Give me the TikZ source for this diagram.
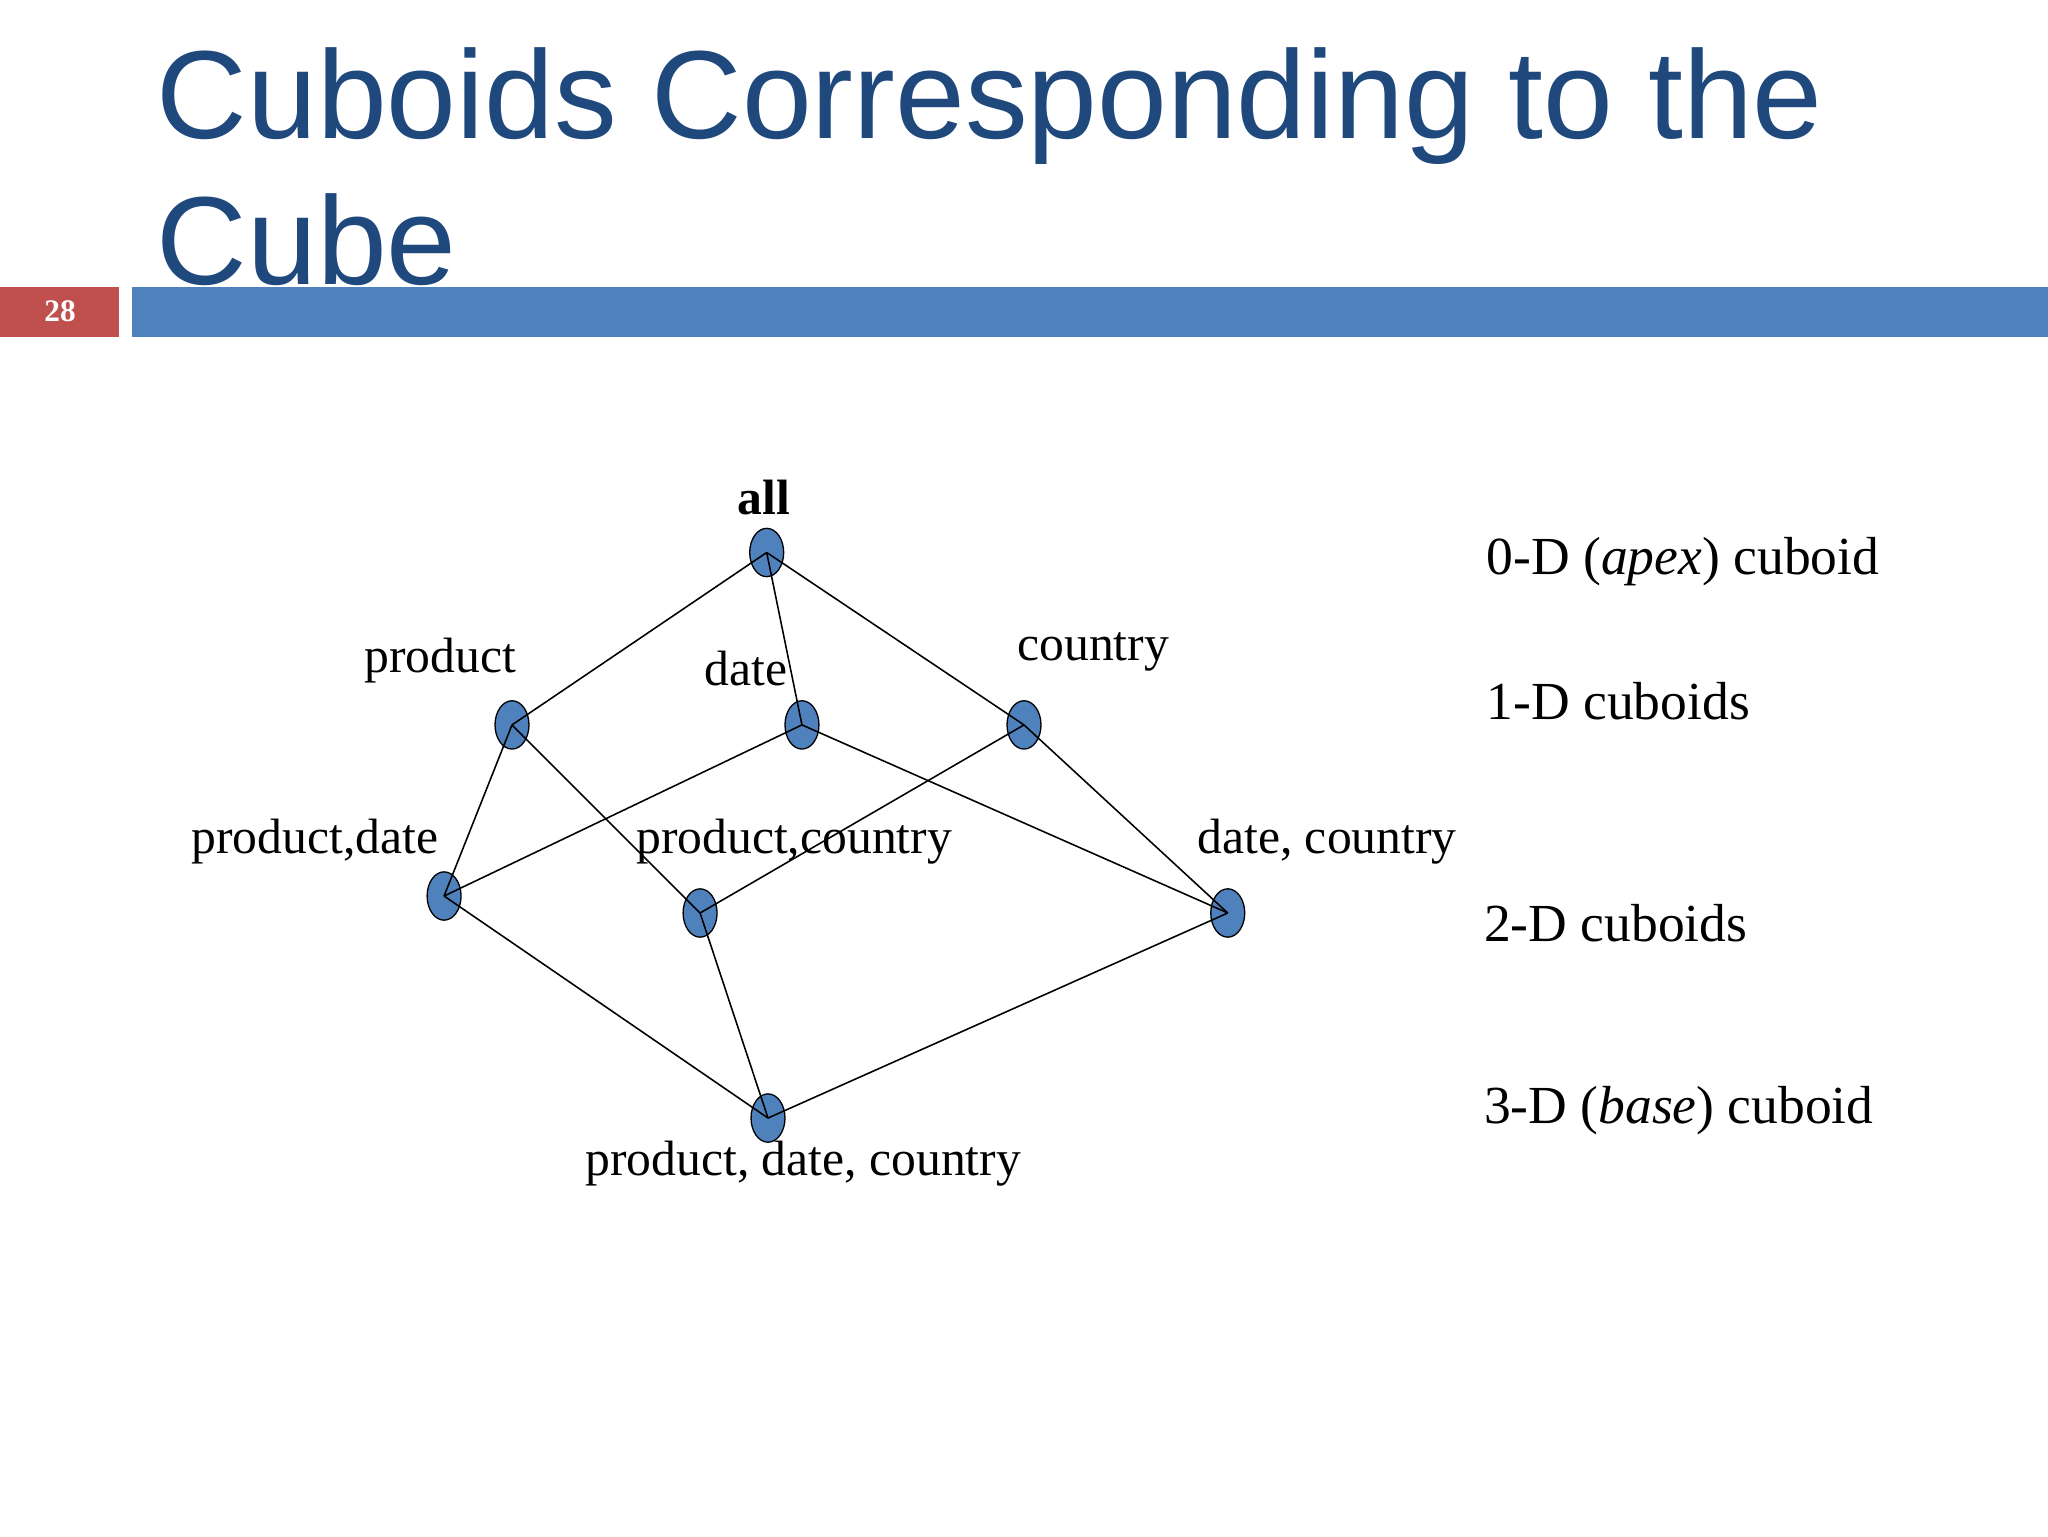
\documentclass[tikz,border=0pt]{standalone}
\usepackage{fontspec}
\setmainfont{Liberation Serif}
\newfontfamily\titlefont{Liberation Sans}
\usetikzlibrary{shapes.geometric}
\definecolor{ttl}{RGB}{31,73,125}
\definecolor{barblue}{RGB}{79,129,189}
\definecolor{barred}{RGB}{192,80,77}
\definecolor{nodeblue}{RGB}{79,129,189}
\tikzset{cub/.style={ellipse,draw=black,fill=nodeblue,minimum width=26pt,minimum height=37pt,inner sep=0pt,line width=1pt},
lbl/.style={font=\fontsize{38}{40}\selectfont,inner sep=0pt},
side/.style={font=\fontsize{41}{44}\selectfont,anchor=west,inner sep=0pt},
edge/.style={line width=1.2pt}}
\begin{document}
\begin{tikzpicture}[x=1pt,y=-1pt]
\useasboundingbox[fill=white] (0,0) rectangle (1568,1176);
\node[anchor=base west,inner sep=0pt,text=ttl,font=\titlefont\fontsize{96}{110}\selectfont] (t1) at (120,106) {Cuboids Corresponding to the};
\node[anchor=base west,inner sep=0pt,text=ttl,font=\titlefont\fontsize{96}{110}\selectfont] (t2) at (120,218) {Cube};
\fill[barred] (0,220) rectangle (91,258);
\fill[barblue] (101,220) rectangle (1568,258);
\node[text=white,font=\bfseries\fontsize{24}{26}\selectfont] (pg) at (46,238) {28};
\node[cub] (all) at (587,423) {};
\node[cub] (p) at (392,555) {};
\node[cub] (d) at (614,555) {};
\node[cub] (c) at (784,555) {};
\node[cub] (pd) at (340,686) {};
\node[cub] (pc) at (536,699) {};
\node[cub] (dc) at (940,699) {};
\node[cub] (pdc) at (588,856) {};
\foreach \a/\b in {all/p,all/d,all/c,p/pd,p/pc,d/pd,d/dc,c/pc,c/dc,pd/pdc,pc/pdc,dc/pdc}
  \draw[edge] (\a.center) -- (\b.center);
\node[lbl,font=\bfseries\fontsize{38}{40}\selectfont] (lall) at (585,381) {all};
\node[lbl] (lp) at (337,506) {product};
\node[lbl] (ld) at (571,512) {date};
\node[lbl] (lc) at (837,499) {country};
\node[lbl] (lpd) at (241,644) {product,date};
\node[lbl] (lpc) at (608,644) {product,country};
\node[lbl] (ldc) at (1016,644) {date, country};
\node[lbl] (lpdc) at (615,891) {product, date, country};
\node[side] (s0) at (1138,430) {0-D (\textit{apex}) cuboid};
\node[side] (s1) at (1138,537) {1-D cuboids};
\node[side] (s2) at (1136,707) {2-D cuboids};
\node[side] (s3) at (1136,850) {3-D (\textit{base}) cuboid};
\end{tikzpicture}
\end{document}
